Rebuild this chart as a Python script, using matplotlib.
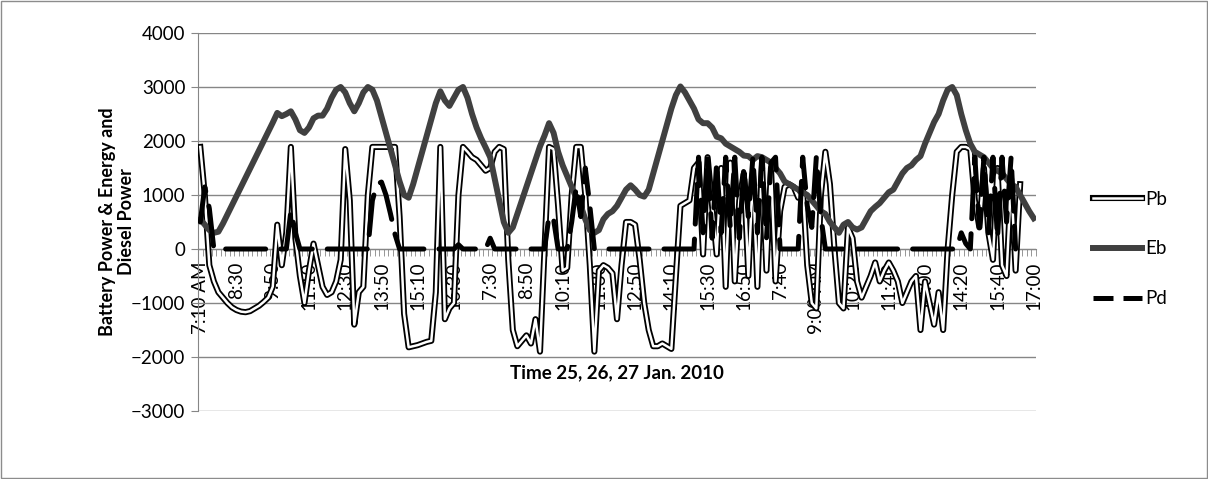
import numpy as np
import matplotlib
matplotlib.use("Agg")
import matplotlib.pyplot as plt
from matplotlib.lines import Line2D
from matplotlib.legend_handler import HandlerTuple
from matplotlib.patches import Rectangle

nan = float("nan")

# category labels shown on the time axis (one every 8 samples, 10 min step)
tick_labels = ["7:10 AM", "8:30", "9:50", "11:10", "12:30", "13:50", "15:10", "16:30",
               "7:30", "8:50", "10:10", "11:30", "12:50", "14:10", "15:30", "16:50",
               "7:40", "9:00 AM", "10:20", "11:40", "13:00", "14:20", "15:40", "17:00"]
label_step = 8

# battery power (W)
pb = [1890, 1000, -300, -600, -800, -900, -1000, -1080, -1130, -1160,
      -1170, -1150, -1100, -1050, -980, -900, -700, 450, -300, 300,
      1890, 200, -500, -1000, -400, 100, -300, -700, -850, -800,
      -600, -200, 1850, 900, -1400, -800, -700, 1000, 1890, 1890,
      1890, 1890, 1890, 1890, 600, -1200, -1820, -1800, -1780, -1750,
      -1720, -1700, -800, 1890, -1300, -1100, -1000, 1000, 1890, 1800,
      1700, 1650, 1550, 1450, 1500, 1800, 1890, 1850, -200, -1500,
      -1800, -1700, -1600, -1750, -1300, -1900, 0, 1890, 1850, 800,
      -400, -350, 1000, 1890, 1890, 1000, -300, -1900, -400, -300,
      -350, -450, -1300, -300, 500, 500, 450, -200, -1000, -1500,
      -1800, -1800, -1750, -1800, -1850, -500, 800, 850, 900, 1500,
      1600, -100, 1700, 800, -100, 1500, -700, 1600, -600, 900,
      1400, -500, 1400, -700, 1600, -400, 1500, -600, 700, 1150,
      1200, 1150, 950, 1150, -300, -1000, -1100, 1000, 1800, 1200,
      0, -1000, -1100, 400, 200, -600, -900, -700, -500, -250,
      -600, -400, -250, -400, -600, -1000, -800, -600, -500, -1500,
      -600, -1000, -1400, -800, -1500, 0, 1000, 1800, 1890, 1890,
      1850, 900, 400, 1500, 300, -200, 1500, -300, -500, 1300,
      -400, 1200, nan, nan, nan]

# battery energy (Wh)
eb = [550, 450, 350, 300, 320, 470, 640, 810, 980, 1150,
      1320, 1490, 1660, 1830, 2000, 2170, 2340, 2520, 2460, 2500,
      2550, 2400, 2200, 2150, 2250, 2420, 2470, 2470, 2600, 2800,
      2950, 3000, 2900, 2700, 2550, 2700, 2900, 3000, 2950, 2750,
      2450, 2150, 1850, 1550, 1250, 1000, 950, 1200, 1500, 1800,
      2100, 2400, 2700, 2920, 2750, 2650, 2800, 2950, 3000, 2800,
      2500, 2250, 2050, 1880, 1700, 1300, 900, 500, 300, 400,
      650, 900, 1150, 1400, 1650, 1900, 2100, 2330, 2150, 1800,
      1550, 1350, 1150, 950, 800, 550, 350, 300, 350, 550,
      650, 700, 800, 950, 1100, 1180, 1100, 1000, 970, 1100,
      1400, 1700, 2000, 2300, 2600, 2850, 3010, 2900, 2750, 2600,
      2400, 2330, 2330, 2250, 2080, 2050, 1950, 1900, 1850, 1800,
      1730, 1720, 1650, 1720, 1700, 1650, 1600, 1500, 1400, 1250,
      1200, 1150, 1100, 1050, 1000, 900, 800, 700, 650, 500,
      400, 300, 450, 500, 400, 360, 400, 550, 700, 780,
      850, 950, 1050, 1100, 1250, 1400, 1500, 1550, 1650, 1720,
      1950, 2150, 2350, 2500, 2750, 2950, 3000, 2850, 2500, 2200,
      1950, 1800, 1750, 1700, 1600, 1500, 1450, 1400, 1300, 1200,
      1150, 1000, 850, 700, 570]

# diesel power (W)
pd_ = [500, 1150, 750, 0, 0, 0, 0, 0, 0, 0,
       0, 0, 0, 0, 0, 0, 0, 0, 0, 0,
       700, 300, 0, 0, 0, 0, 0, 0, 0, 0,
       0, 0, 0, 0, 0, 0, 0, 0, 900, 1200,
       1240, 1000, 650, 270, 0, 0, 0, 0, 0, 0,
       0, 0, 0, 0, 0, 0, 0, 80, 0, 0,
       0, 0, 0, 0, 200, 0, 0, 0, 0, 0,
       0, 0, 0, 0, 0, 0, 0, 620, 550, 0,
       0, 0, 500, 1150, 600, 1500, 800, 0, 0, 0,
       0, 0, 0, 0, 0, 0, 0, 0, 0, 0,
       0, 0, 0, 0, 0, 0, 0, 0, 0, 0,
       1700, 300, 1700, 200, 1600, 300, 1700, 400, 1700, 200,
       1500, 600, 1700, 300, 1700, 200, 1600, 1700, 0, 0,
       0, 0, 0, 1700, 800, 400, 1700, 600, 0, 0,
       0, 0, 0, 0, 0, 0, 0, 0, 0, 0,
       0, 0, 0, 0, 0, 0, 0, 0, 0, 0,
       0, 0, 0, 0, 0, 0, 0, 0, 300, 100,
       0, 1700, 400, 1700, 300, 1700, 200, 1700, 500, 1700,
       0, nan, nan, nan, nan]

W, H = 1208, 479
grey = "#868686"
fs = 13.5
plt.rcParams["font.family"] = ["Lato", "DejaVu Sans"]

fig = plt.figure(figsize=(W / 100, H / 100), dpi=100)
ax = fig.add_axes([198 / W, 1 - 411 / H, (1036 - 198) / W, (411 - 33) / H])

x = np.arange(len(eb))
ax.plot(x, pb, color="black", lw=4.4, solid_joinstyle="round", zorder=3)
ax.plot(x, pb, color="white", lw=1.8, solid_joinstyle="round", zorder=3)
ax.plot(x, eb, color="#404040", lw=4.3, solid_joinstyle="round", zorder=4)
ax.plot(x, pd_, color="black", lw=3.6, dashes=(8, 3), dash_capstyle="round", zorder=5)

ax.set_xlim(-0.5, len(eb) - 0.5)
ax.set_ylim(-3000, 4000)
ax.set_yticks(range(-3000, 4001, 1000))
ax.yaxis.grid(True, color=grey, lw=1)
ax.set_axisbelow(True)
for s in ("top", "right"):
    ax.spines[s].set_visible(False)
ax.spines["left"].set_color(grey)
ax.spines["bottom"].set_color(grey)
ax.spines["bottom"].set_position(("data", 0))

ax.set_xticks(np.arange(0, len(eb), label_step))
ax.set_xticklabels(tick_labels, rotation=90)
ax.set_xticks(np.arange(-0.5, len(eb), 1), minor=True)
ax.tick_params(axis="x", which="major", length=0, pad=9, labelsize=fs)
ax.tick_params(axis="x", which="minor", length=5, color=grey)
ax.tick_params(axis="y", length=5, color=grey, labelsize=fs, pad=4)

fig.text(117 / W, 1 - 222 / H, "Battery Power & Energy and\nDiesel Power",
         rotation=90, ha="center", va="center", fontsize=13,
         fontweight="bold", multialignment="center", linespacing=1.2)
fig.text(617 / W, 1 - 373 / H, "Time 25, 26, 27 Jan. 2010",
         ha="center", va="center", fontsize=fs, fontweight="bold")

h_pb = (Line2D([], [], color="black", lw=4.4), Line2D([], [], color="white", lw=1.8))
h_eb = Line2D([], [], color="#404040", lw=4.3)
h_pd = Line2D([], [], color="black", lw=3.6, dashes=(4, 2))
fig.legend([h_pb, h_eb, h_pd], ["Pb", "Eb", "Pd"], loc="center left",
           bbox_to_anchor=(1076 / W, 1 - 249 / H), frameon=False,
           handlelength=2.6, labelspacing=1.75, handletextpad=0.2,
           fontsize=fs, handler_map={tuple: HandlerTuple(ndivide=1)})

fig.patches.append(Rectangle((0.0008, 0.002), 0.9984, 0.996, transform=fig.transFigure,
                             fill=False, ec="#8c8c8c", lw=1))

fig.savefig("out.png", dpi=100)
